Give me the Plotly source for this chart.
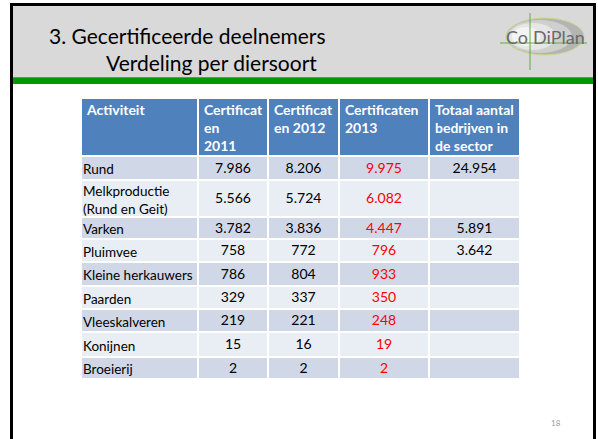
import plotly.graph_objects as go

# table contents
activiteit = ["Rund", "Melkproductie<br>(Rund en Geit)", "Varken", "Pluimvee",
              "Kleine herkauwers", "Paarden", "Vleeskalveren", "Konijnen", "Broeierij"]
cert_2011 = [7986, 5566, 3782, 758, 786, 329, 219, 15, 2]
cert_2012 = [8206, 5724, 3836, 772, 804, 337, 221, 16, 2]
cert_2013 = [9975, 6082, 4447, 796, 933, 350, 248, 19, 2]
totaal_sector = [24954, None, 5891, 3642, None, None, None, None, None]

headers = ["Activiteit", "Certificat<br>en<br>2011", "Certificat<br>en 2012",
           "Certificaten<br>2013", "Totaal aantal<br>bedrijven in<br>de sector"]

FONT = "Lato, 'Open Sans', sans-serif"
HEADER_BLUE = "#4F81BD"
DARK_ROW = "#D0D8E8"
LIGHT_ROW = "#E9EDF4"

# table grid in slide pixels (x to the right, y downwards)
col_edges = [81, 198, 268, 339, 429, 520]
row_edges = [98, 156, 180, 217, 239, 262, 286, 309, 332, 357, 379]


def nl(v):
    '''Dutch thousands separator, empty string for missing values.'''
    if v is None:
        return ""
    return f"{v:,}".replace(",", ".")


n_rows = len(activiteit)
n_cols = len(headers)
col_mid = [(a + b) / 2 for a, b in zip(col_edges[:-1], col_edges[1:])]
row_mid = [(a + b) / 2 for a, b in zip(row_edges[1:-1], row_edges[2:])]

# 0 = header, 1 = dark band, 2 = light band
z = [[0] * n_cols] + [[1 if i % 2 == 0 else 2] * n_cols for i in range(n_rows)]

fig = go.Figure()
fig.add_trace(go.Heatmap(
    x=col_edges, y=row_edges, z=z,
    zmin=0, zmax=2,
    colorscale=[[0, HEADER_BLUE], [0.5, DARK_ROW], [1, LIGHT_ROW]],
    showscale=False, xgap=2, ygap=2, hoverinfo="skip",
))

# header texts, top-left in each cell
fig.add_trace(go.Scatter(
    x=[e + 6 for e in col_edges[:-1]], y=[row_edges[0] + 6] * n_cols,
    text=[f"<b>{h}</b>" for h in headers],
    mode="text", textposition="bottom right",
    textfont=dict(family=FONT, size=14, color="white"),
    hoverinfo="skip",
))

# first column labels
fig.add_trace(go.Scatter(
    x=[col_edges[0] + 2] * n_rows, y=[m + 3 for m in row_mid],
    text=activiteit,
    mode="text", textposition="middle right",
    textfont=dict(family=FONT, size=13.5, color="black"),
    hoverinfo="skip",
))

# value columns
value_cols = [(cert_2011, "black"), (cert_2012, "black"),
              (cert_2013, "#FF0000"), (totaal_sector, "black")]
for k, (vals, colour) in enumerate(value_cols):
    fig.add_trace(go.Scatter(
        x=[col_mid[k + 1]] * n_rows, y=[m + 1 for m in row_mid],
        text=[nl(v) for v in vals],
        mode="text", textposition="middle center",
        textfont=dict(family=FONT, size=14, color=colour),
        hoverinfo="skip",
    ))

shapes = [
    # grey title band, dark edge and green rule
    dict(type="rect", x0=13, x1=593, y0=6, y1=77, fillcolor="#D9D9D9", line=dict(width=0), layer="below"),
    dict(type="rect", x0=13, x1=593, y0=77, y1=78, fillcolor="#808080", line=dict(width=0), layer="below"),
    dict(type="rect", x0=13, x1=593, y0=78, y1=84, fillcolor="#009900", line=dict(width=0), layer="below"),
    # logo ellipse, faked gradient
    dict(type="circle", x0=506, x1=584, y0=18, y1=55, fillcolor="#B4B4B4",
         line=dict(color="#C9D98A", width=1), layer="below"),
    dict(type="circle", x0=507, x1=572, y0=20, y1=53, fillcolor="#CFCFCF", line=dict(width=0), layer="below"),
    dict(type="circle", x0=509, x1=556, y0=23, y1=50, fillcolor="#E6E6E6", line=dict(width=0), layer="below"),
    dict(type="circle", x0=512, x1=540, y0=27, y1=46, fillcolor="#F4F4F4", line=dict(width=0), layer="below"),
    dict(type="line", x0=530, x1=530, y0=13, y1=70, line=dict(color="#5BAE3A", width=1)),
    dict(type="line", x0=500, x1=587, y0=43, y1=43, line=dict(color="#5BAE3A", width=1)),
    # slide frame
    dict(type="rect", x0=11.5, x1=594.5, y0=4.5, y1=460, fillcolor="rgba(0,0,0,0)",
         line=dict(color="black", width=3), layer="above"),
]

fig.update_layout(
    width=598,
    height=439,
    margin=dict(l=0, r=0, t=0, b=0),
    paper_bgcolor="white",
    plot_bgcolor="white",
    xaxis=dict(visible=False, range=[0, 598], fixedrange=True),
    yaxis=dict(visible=False, range=[439, 0], fixedrange=True),
    showlegend=False,
    shapes=shapes,
    annotations=[
        dict(x=47, y=35, xanchor="left", yanchor="middle", showarrow=False,
             text="3. Gecertificeerde deelnemers",
             font=dict(family=FONT, size=21, color="black")),
        dict(x=104, y=62, xanchor="left", yanchor="middle", showarrow=False,
             text="Verdeling per diersoort",
             font=dict(family=FONT, size=21, color="black")),
        dict(x=517, y=37, xanchor="center", yanchor="middle", showarrow=False,
             text="Co", font=dict(family=FONT, size=18, color="#6A6A6A")),
        dict(x=559, y=37, xanchor="center", yanchor="middle", showarrow=False,
             text="DiPlan", font=dict(family=FONT, size=18, color="#6A6A6A")),
        dict(x=556, y=423, xanchor="center", yanchor="middle", showarrow=False,
             text="18", font=dict(family=FONT, size=8, color="#999999")),
    ],
)

# drop the default 8px body margin so the slide sits at the window origin
fig.write_html("out.html", config={"displayModeBar": False},
               post_script="document.body.style.margin='0';")
